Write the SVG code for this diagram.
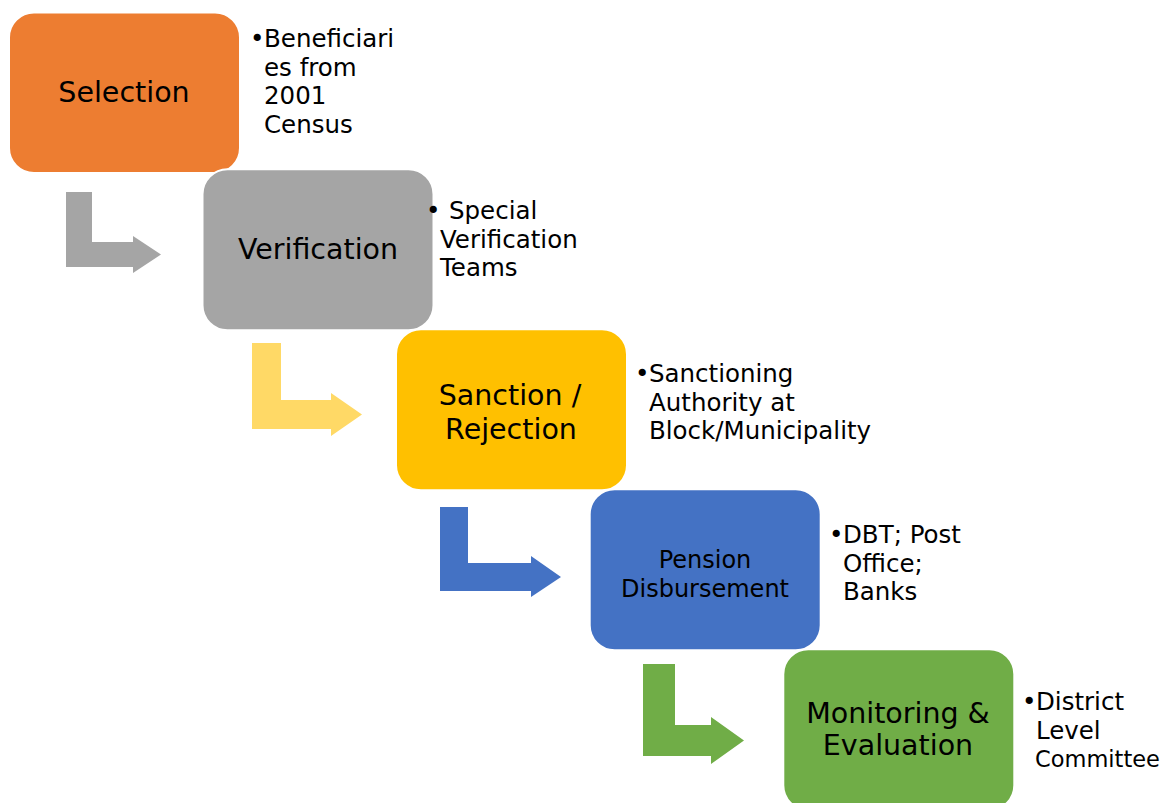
<svg xmlns="http://www.w3.org/2000/svg" width="1169" height="803" viewBox="0 0 1169 803">
<style>
.box{stroke:#FFFFFF;stroke-width:2}
.lbl{font-family:"DejaVu Sans","Liberation Sans",sans-serif;font-size:28.5px;fill:#000;text-anchor:middle}
.lbl2{font-family:"DejaVu Sans","Liberation Sans",sans-serif;font-size:24px;fill:#000;text-anchor:middle}
.side{font-family:"DejaVu Sans","Liberation Sans",sans-serif;font-size:24.5px;fill:#000}
</style>
<rect width="1169" height="803" fill="#FFFFFF"/>
<g id="connectors">
<polygon fill="#A5A5A5" points="66,192 92,192 92,242 133,242 133,236 161,254.5 133,273 133,267 66,267"/>
<polygon fill="#FFD966" points="252,343 281,343 281,400 331,400 331,393 362,414.5 331,436 331,429 252,429"/>
<polygon fill="#4472C4" points="440,507 468,507 468,563 531,563 531,556 561,577 531,597 531,591 440,591"/>
<polygon fill="#70AD47" points="643,664 675,664 675,725 711,725 711,717 744,740.5 711,764 711,756 643,756"/>
</g>
<g id="node-selection">
<rect class="box" x="9" y="12.5" width="231" height="160.5" rx="25" fill="#ED7D31"/>
<text class="lbl" x="124" y="102">Selection</text>
<text class="side" x="250" y="47">•</text>
<text class="side" x="264" y="47">Beneficiari</text>
<text class="side" x="264" y="75.5">es from</text>
<text class="side" x="264" y="104">2001</text>
<text class="side" x="264" y="132.5">Census</text>
</g>
<g id="node-verification">
<rect class="box" x="202.5" y="169.3" width="231" height="161" rx="25" fill="#A5A5A5"/>
<text class="lbl" x="318" y="259">Verification</text>
<text class="side" x="426" y="219">•</text>
<text class="side" x="449" y="219">Special</text>
<text class="side" x="440" y="247.5">Verification</text>
<text class="side" x="440" y="276">Teams</text>
</g>
<g id="node-sanction">
<rect class="box" x="396" y="329.3" width="231" height="161" rx="25" fill="#FFC000"/>
<text class="lbl" x="510" y="405">Sanction /</text>
<text class="lbl" x="511" y="439">Rejection</text>
<text class="side" x="635" y="382">•</text>
<text class="side" x="649" y="382">Sanctioning</text>
<text class="side" x="649" y="410.5">Authority at</text>
<text class="side" x="649" y="439">Block/Municipality</text>
</g>
<g id="node-disbursement">
<rect class="box" x="589.7" y="489.3" width="231" height="161" rx="25" fill="#4472C4"/>
<text class="lbl2" x="705" y="568">Pension</text>
<text class="lbl2" x="705" y="597">Disbursement</text>
<text class="side" x="829" y="543">•</text>
<text class="side" x="843" y="543">DBT; Post</text>
<text class="side" x="843" y="571.5">Office;</text>
<text class="side" x="843" y="600">Banks</text>
</g>
<g id="node-monitoring">
<rect class="box" x="783.3" y="649.3" width="231" height="161" rx="25" fill="#70AD47"/>
<text class="lbl" x="898" y="723">Monitoring &amp;</text>
<text class="lbl" x="898" y="755">Evaluation</text>
<text class="side" x="1022" y="710">•</text>
<text class="side" x="1036" y="710">District</text>
<text class="side" x="1036" y="738.5">Level</text>
<text class="side" x="1035" y="767" style="font-size:22.5px">Committee</text>
</g>
</svg>
